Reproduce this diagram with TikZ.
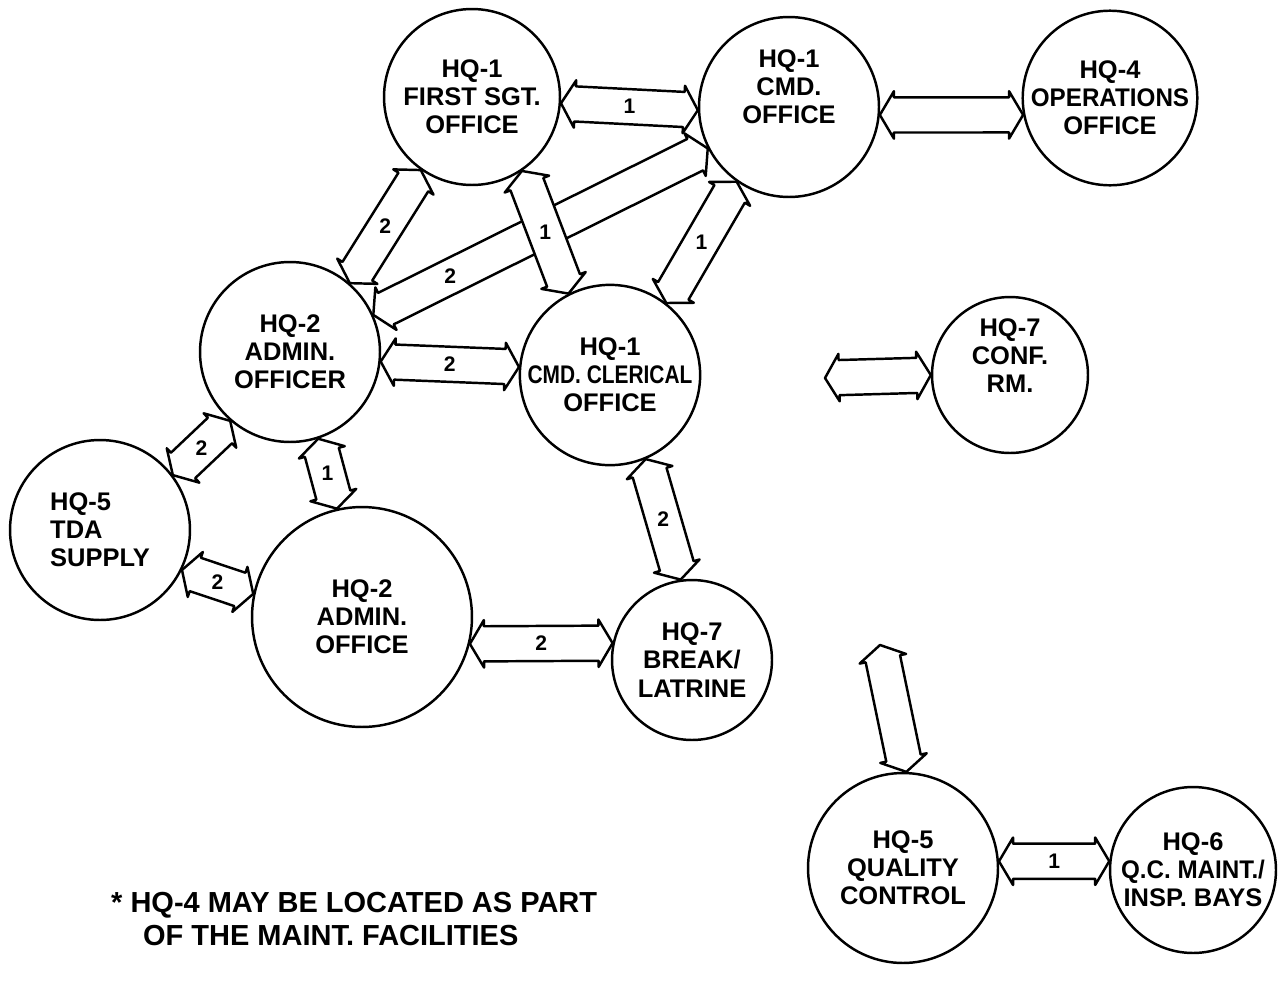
\documentclass[tikz,border=0pt]{standalone}
\usepackage{fontspec}
\setmainfont{Liberation Sans}
\usepackage{graphicx}
\usetikzlibrary{calc}

\newcommand{\twoway}[4][0.5]{%
  \coordinate (tw-s) at (#2);
  \coordinate (tw-e) at (#3);
  \coordinate (tw-a) at ($(tw-s)!8pt!(tw-e)$);
  \coordinate (tw-b) at ($(tw-e)!8pt!(tw-s)$);
  \filldraw[way] (tw-s) -- ($(tw-a)!13.5pt!90:(tw-e)$) -- ($(tw-a)!10pt!90:(tw-e)$)
    -- ($(tw-b)!10pt!-90:(tw-s)$) -- ($(tw-b)!13.5pt!-90:(tw-s)$) -- (tw-e)
    -- ($(tw-b)!13.5pt!90:(tw-s)$) -- ($(tw-b)!10pt!90:(tw-s)$)
    -- ($(tw-a)!10pt!-90:(tw-e)$) -- ($(tw-a)!13.5pt!-90:(tw-e)$) -- cycle;
  \if\relax\detokenize{#4}\relax\else
    \node[weight] at ($(tw-s)!#1!(tw-e)$) {#4};
  \fi
}

\begin{document}
\begin{tikzpicture}[
          x=0.02cm, y=-0.02cm,
          room/.style={circle, draw, line width=1.4pt, inner sep=0pt,
                       minimum size=#1, align=center,
                       font=\fontsize{14.5}{16}\selectfont\bfseries},
          way/.style={draw, fill=white, line width=1.4pt, line join=round},
          weight/.style={font=\fontsize{12}{13}\selectfont\bfseries, inner sep=1pt}
        ]
        \useasboundingbox (0,0) rectangle (1288,981);
        \node[room=3.52cm] (sgt) at (472,97) {HQ-1\\FIRST SGT.\\OFFICE};
        \node[room=3.6cm] (cmd) at (789,107) {HQ-1\\CMD.\\OFFICE\\[0.5em]};
        \node[room=3.44cm] (ops) at (1110,98) {HQ-4\\\scalebox{0.95}[1]{OPERATIONS}\\OFFICE};
        \node[room=3.6cm] (adm) at (290,352) {HQ-2\\ADMIN.\\OFFICER};
        \node[room=3.6cm] (clerk) at (610,375) {HQ-1\\\scalebox{0.82}[1]{CMD. CLERICAL}\\OFFICE};
        \node[room=3.12cm] (conf) at (1010,375) {HQ-7\\CONF.\\RM.\\[0.4em]};
        \node[room=3.6cm, align=left] (supply) at (100,530) {HQ-5\\TDA\\SUPPLY};
        \node[room=4.4cm] (admoff) at (362,617) {HQ-2\\ADMIN.\\OFFICE};
        \node[room=3.2cm] (brk) at (692,660) {HQ-7\\BREAK/\\LATRINE};
        \node[room=3.8cm] (qc) at (903,868) {HQ-5\\QUALITY\\CONTROL};
        \node[room=3.32cm] (insp) at (1193,870) {HQ-6\\\scalebox{0.95}[1]{Q.C. MAINT./}\\INSP. BAYS};
        \coordinate (confend) at (825,378);
        \coordinate (qcend) at (880,645);
        \twoway{sgt.-4}{cmd.182}{1}
        \twoway{cmd.-5}{ops.191}{}
        \twoway{sgt.235}{adm.49}{2}
        \twoway[0.77]{cmd.207}{adm.24}{2}
        \twoway{sgt.-56}{clerk.117}{1}
        \twoway{cmd.235}{clerk.52}{1}
        \twoway{adm.-6}{clerk.175}{2}
        \twoway{adm.229}{supply.37}{2}
        \twoway{adm.-72}{admoff.103}{1}
        \twoway{supply.-26}{admoff.168}{2}
        \twoway{clerk.-67}{brk.98}{2}
        \twoway{admoff.-14}{brk.168}{2}
        \twoway{confend}{conf.180}{}
        \twoway{qcend}{qc.88}{}
        \twoway{qc.4}{insp.174}{1}
        \node[anchor=north west, align=left, font=\fontsize{16.5}{19}\selectfont\bfseries]
          (note) at (105,886) {* HQ-4 MAY BE LOCATED AS PART\\\hspace*{1.1em}OF THE MAINT. FACILITIES};
      \end{tikzpicture}
\end{document}
